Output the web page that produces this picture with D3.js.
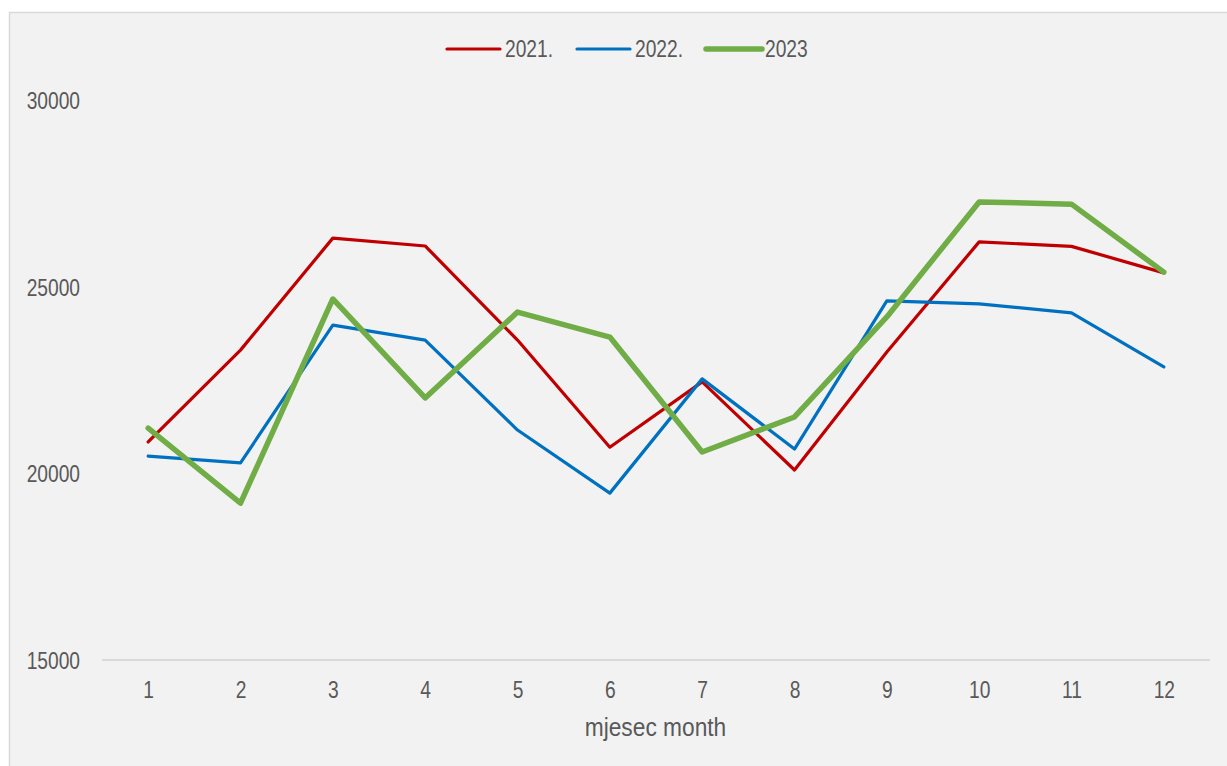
<!DOCTYPE html>
<html>
<head>
<meta charset="utf-8">
<script src="https://cdn.jsdelivr.net/npm/d3@7"></script>
<style>
  body { margin: 0; background: #fff; }
  text { font-family: "Liberation Sans", Arial, sans-serif; fill: #595959; }
</style>
</head>
<body>
<div id="vis"></div>
<script>
const months = [1, 2, 3, 4, 5, 6, 7, 8, 9, 10, 11, 12];
const yTicks = [15000, 20000, 25000, 30000];
const seriesNames = ['2021.', '2022.', '2023'];
const values2021 = [20840, 23300, 26300, 26090, 23570, 20700, 22450, 20090, 23250, 26200, 26080, 25370];
const values2022 = [20460, 20280, 23970, 23570, 21160, 19470, 22530, 20650, 24620, 24540, 24300, 22850];
const values2023 = [21210, 19200, 24670, 22020, 24320, 23650, 20570, 21510, 24190, 27270, 27210, 25390];
const colours = ['#c00000', '#0070c0', '#70ad47'];
const widths = [3.2, 3.2, 5.5];

const W = 1227, H = 766;
const plot = { left: 102, right: 1210, top: 100, bottom: 660 };
const narrow = 0.8; // the reference uses a narrow font

const $svg = d3.select('#vis').append('svg')
  .attr('width', W)
  .attr('height', H);

// place a text at (px, py) squeezed horizontally
function squeeze(sel, px, py, k = narrow) {
  sel.attr('x', 0).attr('y', 0)
    .attr('transform', function(d, i) {
      const tx = typeof px === 'function' ? px(d, i) : px;
      const ty = typeof py === 'function' ? py(d, i) : py;
      return `translate(${tx}, ${ty}) scale(${k}, 1)`;
    });
}

// chart area
$svg.append('rect')
  .attr('x', 9.5).attr('y', 12.5)
  .attr('width', W + 20).attr('height', H + 20)
  .attr('fill', '#f2f2f2')
  .attr('stroke', '#d9d9d9')
  .attr('stroke-width', 1.5);

const x = d3.scalePoint()
  .domain(months)
  .range([plot.left, plot.right])
  .padding(0.5);

const y = d3.scaleLinear()
  .domain([15000, 30000])
  .range([plot.bottom, plot.top]);

// x axis
const xAxis = d3.axisBottom(x).tickSize(0);
const $x = $svg.append('g')
  .attr('transform', `translate(0, ${plot.bottom})`)
  .call(xAxis);
$x.select('.domain')
  .attr('d', `M${plot.left},0H${plot.right}`)
  .attr('stroke', '#d9d9d9')
  .attr('stroke-width', 2);
$x.selectAll('.tick text')
  .attr('font-size', 24)
  .attr('dy', '0.35em')
  .call(squeeze, 0, 30);

// y axis
const yAxis = d3.axisLeft(y).tickValues(yTicks).tickSize(0).tickFormat(d3.format('d'));
const $y = $svg.append('g')
  .attr('transform', 'translate(80, 0)')
  .call(yAxis);
$y.select('.domain').remove();
$y.selectAll('.tick text')
  .attr('font-size', 24)
  .attr('dy', '0.35em')
  .call(squeeze, 0, 0);

$svg.selectAll('.tick text').style('fill', '#595959').attr('fill', null);

// axis title
$svg.append('text')
  .attr('dy', '0.35em')
  .attr('text-anchor', 'middle')
  .attr('font-size', 25)
  .text('mjesec month')
  .call(squeeze, 655.5, 727, 0.91);

// lines
const data = [values2021, values2022, values2023].map((values, i) => ({
  name: seriesNames[i],
  colour: colours[i],
  width: widths[i],
  values: values.map((v, j) => ({ month: months[j], value: v }))
}));

const line = d3.line()
  .x(d => x(d.month))
  .y(d => y(d.value));

$svg.append('g')
  .selectAll('path')
  .data(data)
  .enter()
  .append('path')
  .attr('d', d => line(d.values))
  .attr('fill', 'none')
  .attr('stroke', d => d.colour)
  .attr('stroke-width', d => d.width)
  .attr('stroke-linejoin', 'round')
  .attr('stroke-linecap', 'round');

// legend
const legendX = [447, 577, 706];
const $legend = $svg.append('g')
  .selectAll('g')
  .data(data)
  .enter()
  .append('g')
  .attr('transform', (d, i) => `translate(${legendX[i]}, 49)`);

$legend.append('line')
  .attr('x1', 0)
  .attr('x2', (d, i) => i === 2 ? 56 : 53)
  .attr('stroke', d => d.colour)
  .attr('stroke-width', d => d.width)
  .attr('stroke-linecap', 'round');

$legend.append('text')
  .attr('dy', '0.35em')
  .attr('font-size', 24)
  .text(d => d.name)
  .call(squeeze, (d, i) => i === 2 ? 59 : 58, 0);
</script>
</body>
</html>
